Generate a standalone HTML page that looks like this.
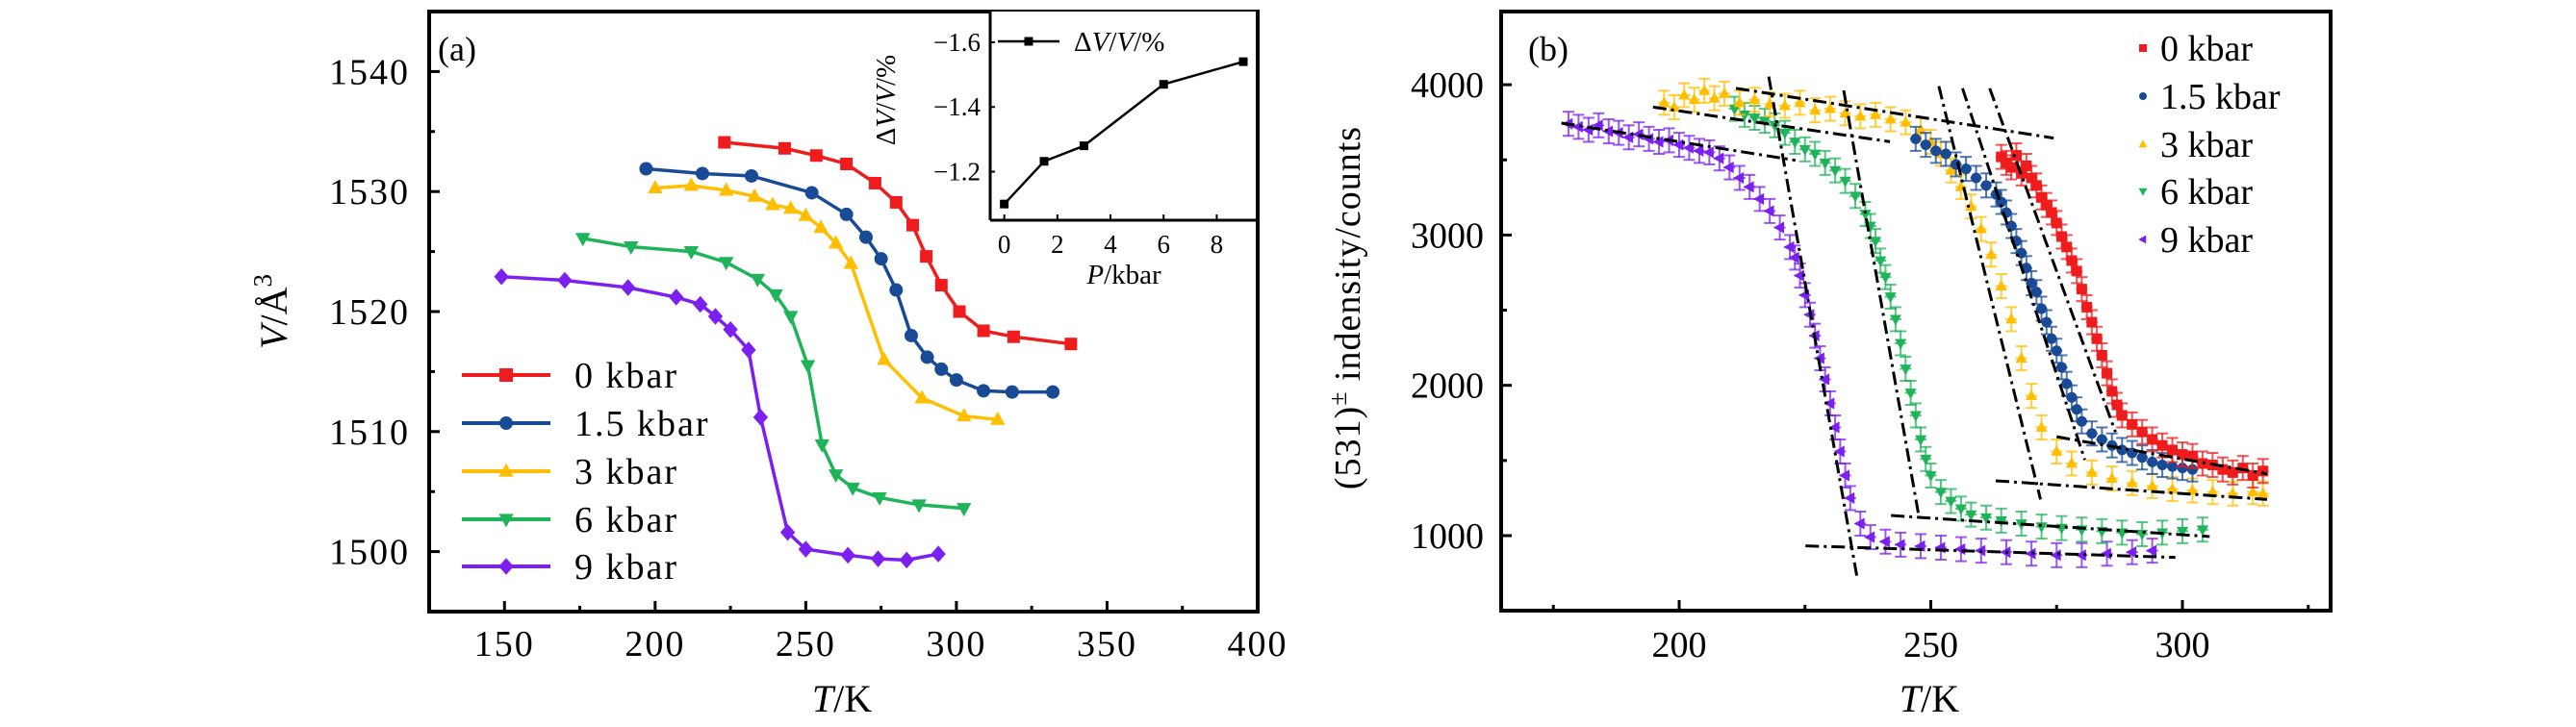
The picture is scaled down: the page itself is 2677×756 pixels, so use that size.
<!DOCTYPE html>
<html><head><meta charset="utf-8">
<style>
html,body{margin:0;padding:0;background:#fff;}
svg{display:block;font-family:"Liberation Serif","DejaVu Serif",serif;}
</style></head>
<body>
<svg id="fig" width="2677" height="756" viewBox="0 0 2677 756" xmlns="http://www.w3.org/2000/svg">
<rect width="2677" height="756" fill="#fff"/>
<g id="pa"></g>
<g id="pb"></g>
</svg>
<script>
// ---------- Panel (a) data ----------
const aT0 = [223,243,253.5,263.5,273,280,285.5,290,295,301,309,319,338];
const aV0 = [1534.1,1533.6,1533.0,1532.3,1530.7,1529.1,1527.2,1524.6,1522.2,1520.0,1518.4,1517.9,1517.3];
const aT15 = [197,215.7,232,252,263.5,270,275,280,285,290.3,295,300,309,318.5,332];
const aV15 = [1531.9,1531.5,1531.3,1529.9,1528.1,1526.2,1524.4,1521.8,1518.0,1516.2,1515.2,1514.3,1513.4,1513.3,1513.3];
const aT3 = [200,212,223.6,233,239,245,250,255,260,265,276,288.6,302.5,313.7];
const aV3 = [1530.3,1530.5,1530.1,1529.6,1528.9,1528.6,1528.0,1527.0,1525.7,1524.0,1516.0,1512.8,1511.3,1511.0];
const aT6 = [176,192,212,223.6,234,240,245,250.7,255.4,260,265.6,274.5,287.6,302.5];
const aV6 = [1526.1,1525.4,1525.0,1524.1,1522.7,1521.4,1519.6,1515.5,1508.9,1506.4,1505.3,1504.5,1503.9,1503.6];
const aT9 = [149,170,191,207,215,220,225,231,235,244,250,264,274,283.5,294];
const aV9 = [1522.9,1522.6,1522.0,1521.2,1520.6,1519.6,1518.5,1516.8,1511.2,1501.6,1500.2,1499.7,1499.4,1499.3,1499.8];
const aXTicks = [150,200,250,300,350,400];
const aYTicks = [1500,1510,1520,1530,1540];
const labels = ["0 kbar","1.5 kbar","3 kbar","6 kbar","9 kbar"];
// inset
const inP = [0,1.5,3,6,9];
const inDV = [-1.10,-1.232,-1.28,-1.47,-1.54];
const inXTicks = [0,2,4,6,8];
const inYTicks = [-1.2,-1.4,-1.6];

// ---------- Panel (b) data ----------
const bT0 = [264,265,266,267,268,269,270,271,272,273,274,275,276,277,278,279,280,281,282,283,284,285,286,287,288,290,292,294,296,298,300,302,304,306,308,310,312,314,316];
const bI0 = [3520,3480,3450,3530,3410,3460,3380,3330,3250,3200,3150,3080,2990,2920,2830,2760,2640,2520,2420,2310,2200,2080,1960,1870,1800,1740,1690,1640,1600,1570,1540,1530,1480,1470,1440,1420,1450,1400,1430];
const bT15 = [247,249,251,253,255,257,259,261,263,264,265,266,267,268,269,270,271,272,273,274,275,276,277,278,279,280,282,284,286,288,290,292,294,296,298,300,302];
const bI15 = [3640,3600,3560,3540,3470,3440,3380,3330,3270,3220,3150,3060,2960,2880,2780,2680,2620,2510,2420,2310,2230,2120,2010,1920,1840,1760,1680,1640,1600,1570,1550,1520,1490,1470,1460,1450,1440];
const bT3 = [197,199,201,203,205,207,209,212,215,218,221,224,227,230,233,236,239,242,245,248,250,252,254,256,258,260,262,264,266,268,270,272,275,278,282,286,290,294,298,302,306,310,314,316];
const bI3 = [3880,3850,3930,3900,3960,3910,3940,3880,3900,3870,3860,3880,3830,3840,3810,3790,3800,3770,3750,3700,3620,3540,3430,3320,3190,3040,2870,2660,2440,2180,1930,1720,1560,1480,1420,1380,1350,1330,1310,1300,1290,1280,1290,1280];
const bT6 = [211,213,215,217,219,221,223,225,227,229,231,233,235,237,238,239,240,241,242,243,244,245,246,247,248,249,250,252,254,256,258,261,264,268,272,276,280,284,288,292,296,300,304];
const bI6 = [3840,3800,3780,3760,3730,3680,3620,3570,3540,3480,3430,3360,3260,3140,3060,2960,2830,2720,2590,2440,2280,2110,1950,1800,1640,1510,1400,1290,1230,1180,1140,1120,1100,1080,1060,1050,1040,1030,1020,1010,1020,1030,1040];
const bT9 = [178,180,182,184,186,188,190,192,194,196,198,200,202,204,206,208,210,212,214,216,218,220,222,223,224,225,226,227,228,229,230,231,232,233,234,236,238,241,244,248,252,256,260,265,270,275,280,285,290,294];
const bI9 = [3740,3720,3700,3730,3690,3680,3650,3670,3640,3620,3630,3600,3580,3560,3550,3510,3450,3380,3320,3240,3160,3050,2920,2850,2730,2600,2470,2330,2180,2040,1880,1720,1560,1400,1250,1080,990,960,940,930,920,910,900,890,880,870,870,880,890,900];
const bErr = 80;
// fit lines: [T1, I1, T2, I2]
const fitT1 = [211.3,194.8,176.6,217.8,232.7,251.6,256.3,261.7,275,262.9,242.1,225.1];
const fitI1 = [3976,3851,3745,4054,3962,3990,3976,3976,1658,1365,1134,932];
const fitT2 = [274.4,241.9,223.1,235.3,247.6,271.8,280.6,286.7,316.8,316.8,305.4,298.6];
const fitI2 = [3645,3621,3497,731,1134,1241,1504,1689,1411,1241,994,855];
const bXTicks = [200,250,300];
const bXMinor = [175,225,275,325];
const bYTicks = [1000,2000,3000,4000];
const bYMinor = [1500,2500,3500];

const colors = ["#ee1c1c","#184a96","#ffbf00","#1fb35a","#7b20f0"];
const NS = "http://www.w3.org/2000/svg";
function el(parent, tag, attrs, text){
  const e = document.createElementNS(NS, tag);
  for (const k in attrs) e.setAttribute(k, attrs[k]);
  if (text !== undefined) e.textContent = text;
  parent.appendChild(e);
  return e;
}
function marker(g, kind, x, y, s, color){
  let m;
  if (kind==="square") m = el(g,"rect",{x:x-s,y:y-s,width:2*s,height:2*s,fill:color});
  else if (kind==="circle") m = el(g,"circle",{cx:x,cy:y,r:s,fill:color});
  else if (kind==="up") m = el(g,"polygon",{points:`${x},${y-s*1.2} ${x-s*1.1},${y+s*0.8} ${x+s*1.1},${y+s*0.8}`,fill:color});
  else if (kind==="down") m = el(g,"polygon",{points:`${x},${y+s*1.2} ${x-s*1.1},${y-s*0.8} ${x+s*1.1},${y-s*0.8}`,fill:color});
  else if (kind==="diamond") m = el(g,"polygon",{points:`${x},${y-s*1.25} ${x+s*1.1},${y} ${x},${y+s*1.25} ${x-s*1.1},${y}`,fill:color});
  else if (kind==="left") m = el(g,"polygon",{points:`${x-s*1.2},${y} ${x+s*0.8},${y-s*1.1} ${x+s*0.8},${y+s*1.1}`,fill:color});
  return m;
}
const kindsA = ["square","circle","up","down","diamond"];
const kindsB = ["square","circle","up","down","left"];

// ================= Panel A =================
const pa = document.getElementById("pa");
const AL=446, AR=1307, AT=12, AB=636;
const ax = t => AL + (t-125)/(400-125)*(AR-AL);
const ay = v => AB - (v-1495)/(1545-1495)*(AB-AT);
for (const t of aXTicks){
  const l = el(pa,"line",{x1:ax(t),x2:ax(t),y1:AB,y2:AB-11,stroke:"#000","stroke-width":3});
  
  
  const tx = el(pa,"text",{x:ax(t),y:682,"font-size":38,"text-anchor":"middle","letter-spacing":2},String(t));
  
  
}
for (const t of [175,225,275,325,375]){
  el(pa,"line",{x1:ax(t),x2:ax(t),y1:AB,y2:AB-6,stroke:"#000","stroke-width":3});
}
for (const v of aYTicks){
  const l = el(pa,"line",{x1:AL,x2:AL+11,y1:ay(v),y2:ay(v),stroke:"#000","stroke-width":3});
  
  
  const tx = el(pa,"text",{x:426,y:ay(v)+13,"font-size":38,"text-anchor":"end","letter-spacing":2},String(v));
  
  
}
for (const v of [1505,1515,1525,1535]){
  el(pa,"line",{x1:AL,x2:AL+6,y1:ay(v),y2:ay(v),stroke:"#000","stroke-width":3});
}
const aTs=[aT0,aT15,aT3,aT6,aT9], aVs=[aV0,aV15,aV3,aV6,aV9];
for (let s=0;s<5;s++){
  const g = el(pa,"g",{});
  
  
  const pts = aTs[s].map((t,i)=>ax(t)+","+ay(aVs[s][i])).join(" ");
  el(g,"polyline",{points:pts,fill:"none",stroke:colors[s],"stroke-width":3.5});
  aTs[s].forEach((t,i)=>{
    const m = marker(g,kindsA[s],ax(t),ay(aVs[s][i]),kindsA[s]==="square"?6.5:7,colors[s]);
    
    
  });
}
const lg = el(pa,"g",{});


const legY=[390,440,490,540,589];
for (let s=0;s<5;s++){
  const e = el(lg,"g",{});
  
  
  el(e,"line",{x1:480,x2:572,y1:legY[s],y2:legY[s],stroke:colors[s],"stroke-width":4});
  marker(e,kindsA[s],526,legY[s],7,colors[s]);
  el(e,"text",{x:597,y:legY[s]+13,"font-size":38,"letter-spacing":2},labels[s]);
}
const fa = el(pa,"rect",{x:AL,y:AT,width:AR-AL,height:AB-AT,fill:"none",stroke:"#000","stroke-width":4});


const la = el(pa,"text",{x:455,y:63,"font-size":36},"(a)");


const yta = el(pa,"text",{x:0,y:0,"font-size":40,"text-anchor":"middle",transform:"translate(298,324) rotate(-90)"});


yta.innerHTML='<tspan font-style="italic">V</tspan>/Å<tspan dy="-16" font-size="27">3</tspan>';
const xta = el(pa,"text",{x:875,y:740,"font-size":40,"text-anchor":"middle"});


xta.innerHTML='<tspan font-style="italic">T</tspan>/K';

// inset
const ins = el(pa,"g",{});


const IL=1029, IR=1305, IT=12, IB=229;
const ix = p => IL + (p+0.53)/(9.47+0.53)*(IR-IL);
const iy = d => IB - (d+1.05)/(-1.695+1.05)*(IB-IT);
el(ins,"rect",{x:IL,y:IT,width:IR-IL,height:IB-IT,fill:"#fff"});
el(ins,"line",{x1:IL,x2:IL,y1:IT,y2:IB,stroke:"#000","stroke-width":3});
el(ins,"line",{x1:IL,x2:IR,y1:IB,y2:IB,stroke:"#000","stroke-width":3});
for (const p of inXTicks){
  el(ins,"line",{x1:ix(p),x2:ix(p),y1:IB,y2:IB-6,stroke:"#000","stroke-width":2});
  const t = el(ins,"text",{x:ix(p),y:IB+34,"font-size":27,"text-anchor":"middle"},String(p));
  
  
}
for (const d of inYTicks){
  el(ins,"line",{x1:IL,x2:IL+5,y1:iy(d),y2:iy(d),stroke:"#000","stroke-width":2});
  const t = el(ins,"text",{x:IL-10,y:iy(d)+9,"font-size":27,"text-anchor":"end"},"−"+Math.abs(d).toFixed(1));
  
  
}
el(ins,"polyline",{points:inP.map((p,i)=>ix(p)+","+iy(inDV[i])).join(" "),fill:"none",stroke:"#000","stroke-width":2.5});
inP.forEach((p,i)=>{ marker(ins,"square",ix(p),iy(inDV[i]),4.5,"#000"); });
el(ins,"line",{x1:1037,x2:1101,y1:43,y2:43,stroke:"#000","stroke-width":2.5});
marker(ins,"square",1069,43,4.5,"#000");
const ilt = el(ins,"text",{x:1116,y:53,"font-size":29});


ilt.innerHTML='Δ<tspan font-style="italic">V</tspan>/<tspan font-style="italic">V</tspan>/%';
const ixt = el(ins,"text",{x:1168,y:295,"font-size":29,"text-anchor":"middle"});


ixt.innerHTML='<tspan font-style="italic">P</tspan>/kbar';
const iyt = el(ins,"text",{x:0,y:0,"font-size":29,"text-anchor":"middle",transform:"translate(930,104) rotate(-90)"});


iyt.innerHTML='Δ<tspan font-style="italic">V</tspan>/<tspan font-style="italic">V</tspan>/%';

// ================= Panel B =================
const pb = document.getElementById("pb");
const BL=1560, BR=2422, BT=12, BB=635;
const bx = t => 1745 + (t-200)*5.23;
const by = v => 557 - (v-1000)*0.1563;
for (const t of bXTicks){
  const l = el(pb,"line",{x1:bx(t),x2:bx(t),y1:BB,y2:BB-11,stroke:"#000","stroke-width":3});
  
  
  const tx = el(pb,"text",{x:bx(t),y:683,"font-size":38,"text-anchor":"middle"},String(t));
  
  
}
for (const t of bXMinor) el(pb,"line",{x1:bx(t),x2:bx(t),y1:BB,y2:BB-6,stroke:"#000","stroke-width":3});
for (const v of bYTicks){
  const l = el(pb,"line",{x1:BL,x2:BL+11,y1:by(v),y2:by(v),stroke:"#000","stroke-width":3});
  
  
  const tx = el(pb,"text",{x:1542,y:by(v)+13,"font-size":38,"text-anchor":"end"},String(v));
  
  
}
for (const v of bYMinor) el(pb,"line",{x1:BL,x2:BL+6,y1:by(v),y2:by(v),stroke:"#000","stroke-width":3});

const bTs=[bT0,bT15,bT3,bT6,bT9], bIs=[bI0,bI15,bI3,bI6,bI9];
const order=[4,3,2,1,0];
for (const s of order){
  const g = el(pb,"g",{});
  
  
  bTs[s].forEach((t,i)=>{
    const x=bx(t), y=by(bIs[s][i]);
    el(g,"line",{x1:x,x2:x,y1:by(bIs[s][i]+bErr),y2:by(bIs[s][i]-bErr),stroke:colors[s],"stroke-width":2,opacity:0.75});
    el(g,"line",{x1:x-6,x2:x+6,y1:by(bIs[s][i]+bErr),y2:by(bIs[s][i]+bErr),stroke:colors[s],"stroke-width":2,opacity:0.75});
    el(g,"line",{x1:x-6,x2:x+6,y1:by(bIs[s][i]-bErr),y2:by(bIs[s][i]-bErr),stroke:colors[s],"stroke-width":2,opacity:0.75});
    el(g,"line",{x1:x-6,x2:x+6,y1:y,y2:y,stroke:colors[s],"stroke-width":2,opacity:0.75});
    const m = marker(g,kindsB[s],x,y,5.5,colors[s]);
    
    
  });
}
const fg = el(pb,"g",{});


for (let i=0;i<fitT1.length;i++){
  el(fg,"line",{x1:bx(fitT1[i]),y1:by(fitI1[i]),x2:bx(fitT2[i]),y2:by(fitI2[i]),stroke:"#000","stroke-width":3,"stroke-dasharray":"14 5 3 5"});
}
const lgb = el(pb,"g",{});


const legBY=[50,100,150,199,249];
for (let s=0;s<5;s++){
  const e = el(lgb,"g",{});
  
  
  marker(e,kindsB[s],2227,legBY[s],4,colors[s]);
  el(e,"text",{x:2245,y:legBY[s]+13,"font-size":38},labels[s]);
}
const fb = el(pb,"rect",{x:BL,y:BT,width:BR-BL,height:BB-BT,fill:"none",stroke:"#000","stroke-width":4});


const lb = el(pb,"text",{x:1588,y:63,"font-size":36},"(b)");


const ytb = el(pb,"text",{x:0,y:0,"font-size":38,"text-anchor":"middle","letter-spacing":1,transform:"translate(1413,320) rotate(-90)"});


ytb.innerHTML='(531)<tspan dy="-14" font-size="26">±</tspan><tspan dy="14"> indensity/counts</tspan>';
const xtb = el(pb,"text",{x:2005,y:740,"font-size":40,"text-anchor":"middle"});


xtb.innerHTML='<tspan font-style="italic">T</tspan>/K';
</script>
</body></html>
